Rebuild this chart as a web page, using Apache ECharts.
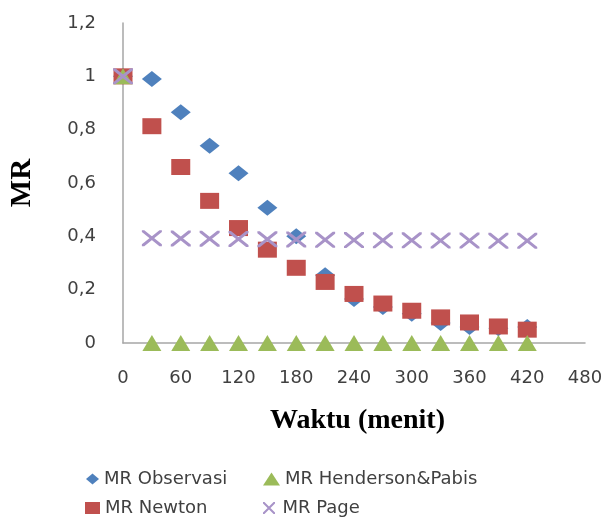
<!DOCTYPE html>
<html><head><meta charset="utf-8">
<script src="https://cdn.jsdelivr.net/npm/echarts@6/dist/echarts.min.js"></script>
<style>html,body{margin:0;padding:0;background:#fff}#c{width:606px;height:518px}</style>
</head><body><div id="c"></div>
<script>
var waktu = [0, 30, 60, 90, 120, 150, 180, 210, 240, 270, 300, 330, 360, 390, 420];
var mrObservasi = [1.0, 0.99, 0.865, 0.74, 0.637, 0.507, 0.40, 0.254, 0.165, 0.135, 0.11, 0.075, 0.06, 0.055, 0.06];
var mrNewton = [1.0, 0.813, 0.66, 0.533, 0.431, 0.35, 0.282, 0.229, 0.184, 0.148, 0.121, 0.096, 0.077, 0.062, 0.05];
var mrHenderson = [1.0, 0, 0, 0, 0, 0, 0, 0, 0, 0, 0, 0, 0, 0, 0];
var mrPage = [1.0, 0.393, 0.392, 0.391, 0.390, 0.389, 0.388, 0.387, 0.386, 0.385, 0.385, 0.384, 0.384, 0.383, 0.383];
var seriesNames = ['MR Observasi', 'MR Newton', 'MR Henderson&Pabis', 'MR Page'];

function pairs(v){ return waktu.map(function(x,i){ return [x, v[i]]; }); }
var xPath = 'path://M0,0L1.2,0L10,8.8L10,10L8.8,10L0,1.2Z M8.8,0L10,0L10,1.2L1.2,10L0,10L0,8.8Z';
var sansFam = "'DejaVu Sans', Verdana, sans-serif";
var lblFont = {fontFamily:sansFam, fontSize:18, color:'#404040'};
var legText = {fontFamily:sansFam, fontSize:18, color:'#404040'};
function leg(name, left, top, w, h){
  return {data:[name], left:left, top:top, padding:0, itemWidth:w, itemHeight:h, itemGap:0, textStyle:legText};
}

var chart = echarts.init(document.getElementById('c'), null, {renderer:'canvas'});
chart.setOption({
  animation:false,
  backgroundColor:'#fff',
  grid:{left:120, right:21, top:23, bottom:175},
  xAxis:{type:'value', min:0, max:480, interval:60,
    name:'Waktu (menit)', nameLocation:'middle', nameGap:64,
    nameTextStyle:{fontFamily:"'Liberation Serif', serif", fontWeight:'bold', fontSize:28, color:'#000', padding:[0,0,0,7]},
    axisLine:{lineStyle:{color:'#a6a6a6', width:1.5}}, axisTick:{show:false}, splitLine:{show:false},
    axisLabel:Object.assign({margin:26}, lblFont)},
  yAxis:{type:'value', min:0, max:1.2, interval:0.2,
    name:'MR', nameLocation:'middle', nameGap:86, nameRotate:90,
    nameTextStyle:{fontFamily:"'Liberation Serif', serif", fontWeight:'bold', fontSize:29, color:'#000'},
    axisLine:{show:true, lineStyle:{color:'#a6a6a6', width:1.5}}, axisTick:{show:false}, splitLine:{show:false},
    axisLabel:Object.assign({margin:27, formatter:function(v){ return String(Math.round(v*10)/10).replace('.', ','); }}, lblFont)},
  legend:[
    leg(seriesNames[0], 86, 470, 13, 11),
    leg(seriesNames[1], 85, 499, 15, 12),
    leg(seriesNames[2], 263, 470, 17, 13),
    leg(seriesNames[3], 263, 499, 17, 12)
  ],
  series:[
    {name:seriesNames[0], type:'scatter', symbol:'diamond', symbolSize:[20,16], data:pairs(mrObservasi), itemStyle:{color:'#4F81BD', opacity:1}},
    {name:seriesNames[1], type:'scatter', symbol:'rect', symbolSize:[19,16], data:pairs(mrNewton), itemStyle:{color:'#C0504D', opacity:1}},
    {name:seriesNames[2], type:'scatter', symbol:'triangle', symbolSize:[19,16], data:pairs(mrHenderson), itemStyle:{color:'#9BBB59', opacity:1}},
    {name:seriesNames[3], type:'scatter', symbol:xPath, symbolSize:[20,16], data:pairs(mrPage), itemStyle:{color:'#A893C8', opacity:1}}
  ]
});
</script></body></html>
